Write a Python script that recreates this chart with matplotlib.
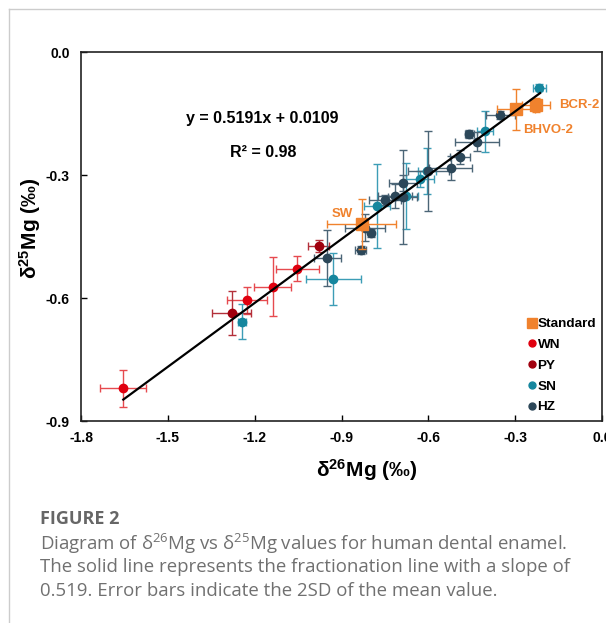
import numpy as np
import matplotlib
matplotlib.use("Agg")
import matplotlib.pyplot as plt
from matplotlib.lines import Line2D

plt.rcParams['mathtext.default'] = 'regular'

# values (delta26Mg, delta25Mg, 2SD)
wn_x = [-1.654, -1.227, -1.138, -1.053]
wn_y = [-0.820, -0.605, -0.572, -0.528]
wn_xerr = [0.079, 0.068, 0.063, 0.075]
wn_yerr = [0.045, 0.033, 0.071, 0.031]

py_x = [-1.279, -0.979]
py_y = [-0.636, -0.473]
py_xerr = [0.067, 0.036]
py_yerr = [0.053, 0.015]

sn_x = [-1.243, -0.928, -0.778, -0.677, -0.629, -0.605, -0.404, -0.216]
sn_y = [-0.658, -0.554, -0.376, -0.351, -0.310, -0.290, -0.193, -0.087]
sn_xerr = [0.014, 0.095, 0.045, 0.040, 0.048, 0.030, 0.029, 0.023]
sn_yerr = [0.043, 0.064, 0.103, 0.080, 0.020, 0.057, 0.050, 0.008]

hz_x = [-0.949, -0.834, -0.819, -0.799, -0.750, -0.715, -0.688, -0.688,
        -0.600, -0.523, -0.490, -0.458, -0.433, -0.352]
hz_y = [-0.503, -0.483, -0.428, -0.442, -0.361, -0.351, -0.320, -0.354,
        -0.290, -0.283, -0.255, -0.200, -0.219, -0.154]
hz_xerr = [0.046, 0.020, 0.069, 0.010, 0.054, 0.060, 0.048, 0.050,
           0.070, 0.075, 0.035, 0.016, 0.076, 0.050]
hz_yerr = [0.068, 0.010, 0.033, 0.010, 0.013, 0.030, 0.020, 0.114,
           0.098, 0.030, 0.017, 0.010, 0.023, 0.010]

std_names = ['SW', 'BHVO-2', 'BCR-2']
std_x = [-0.830, -0.297, -0.228]
std_y = [-0.420, -0.139, -0.129]
std_xerr = [0.119, 0.067, 0.050]
std_yerr = [0.061, 0.050, 0.018]

slope, intercept = 0.5191, 0.0109
fit_x = [-1.654, -0.214]

xticks = [-1.8, -1.5, -1.2, -0.9, -0.6, -0.3, 0.0]
yticks = [0.0, -0.3, -0.6, -0.9]

orange = '#F0822D'
c_wn, e_wn = '#E0000F', '#E64A4F'
c_py, e_py = '#A0000E', '#B3303A'
c_sn, e_sn = '#15869E', '#3C9DB6'
c_hz, e_hz = '#2C4759', '#4B6576'
font = 'Liberation Sans'

fig = plt.figure(figsize=(6.06, 6.23), dpi=100)
ax = fig.add_axes([0.1337, 0.3242, 0.8597, 0.5923])

eb = dict(fmt='o', ms=6, elinewidth=1, capsize=3, capthick=1, zorder=3)
ax.errorbar(wn_x, wn_y, xerr=wn_xerr, yerr=wn_yerr, color=c_wn, ecolor=e_wn, **eb)
ax.errorbar(py_x, py_y, xerr=py_xerr, yerr=py_yerr, color=c_py, ecolor=e_py, **eb)
ax.errorbar(sn_x, sn_y, xerr=sn_xerr, yerr=sn_yerr, color=c_sn, ecolor=e_sn, **eb)
ax.errorbar(hz_x, hz_y, xerr=hz_xerr, yerr=hz_yerr, color=c_hz, ecolor=e_hz, **eb)
ax.errorbar(std_x, std_y, xerr=std_xerr, yerr=std_yerr, fmt='s', ms=9,
            color=orange, ecolor=orange, elinewidth=1, capsize=3, capthick=1,
            zorder=4)

fx = np.array(fit_x)
ax.plot(fx, slope * fx + intercept, color='black', lw=1.6, zorder=5)

# standard labels
offs = {'SW': (-19, 10, 'center'), 'BHVO-2': (7, -21, 'left'), 'BCR-2': (23, 0, 'left')}
for name, x, y in zip(std_names, std_x, std_y):
    dx, dy, ha = offs[name]
    ax.annotate(name, (x, y), xytext=(dx, dy), textcoords='offset pixels',
                ha=ha, va='center', color=orange, fontsize=9.5,
                fontweight='bold', family=font)

ax.text(-1.175, -0.163, 'y = 0.5191x + 0.0109', ha='center', va='center',
        fontsize=11.5, fontweight='bold', family=font)
ax.text(-1.17, -0.245, 'R² = 0.98', ha='center', va='center',
        fontsize=11.5, fontweight='bold', family=font)

ax.set_xlim(-1.8, 0.0)
ax.set_ylim(-0.9, 0.0)
ax.set_xticks(xticks)
ax.set_yticks(yticks)
ax.set_xticklabels([f'{t:.1f}' for t in xticks])
ax.set_yticklabels([f'{t:.1f}' for t in yticks])
ax.tick_params(direction='in', length=4, width=1, labelsize=10)
ax.tick_params(axis='x', pad=7)
ax.tick_params(axis='y', pad=8)
for lab in ax.get_xticklabels() + ax.get_yticklabels():
    lab.set_fontweight('bold')
    lab.set_family(font)
for sp in ax.spines.values():
    sp.set_linewidth(1.2)
    sp.set_color('#222222')

ax.set_xlabel('δ$^{26}$Mg (‰)', fontsize=15, fontweight='bold', family=font)
ax.set_ylabel('δ$^{25}$Mg (‰)', fontsize=15, fontweight='bold', family=font)
ax.xaxis.set_label_coords(0.549, -0.098)
ax.yaxis.set_label_coords(-0.073, 0.523)

handles = [
    Line2D([], [], marker='s', ls='', color=orange, ms=7),
    Line2D([], [], marker='o', ls='', color=c_wn, ms=5),
    Line2D([], [], marker='o', ls='', color=c_py, ms=5),
    Line2D([], [], marker='o', ls='', color=c_sn, ms=5),
    Line2D([], [], marker='o', ls='', color=c_hz, ms=5),
]
leg = ax.legend(handles, ['Standard', 'WN', 'PY', 'SN', 'HZ'], loc='lower left',
                bbox_to_anchor=(0.84, -0.005), frameon=False, handlelength=0.6,
                handletextpad=0.1, labelspacing=0.62, borderaxespad=0.3,
                prop={'family': font, 'weight': 'bold', 'size': 9.7})

# card border and caption
fig.add_artist(Line2D([9 / 606, 9 / 606], [0, 1 - 9 / 623], color='#cccccc',
                      lw=1, transform=fig.transFigure))
fig.add_artist(Line2D([9 / 606, 1], [1 - 9 / 623, 1 - 9 / 623], color='#cccccc',
                      lw=1, transform=fig.transFigure))
fig.text(40 / 606, 1 - 519 / 623, 'FIGURE 2', fontsize=13, color='#666666',
         fontweight='bold', family='Open Sans', va='center')
caption = ['Diagram of δ$^{26}$Mg vs δ$^{25}$Mg values for human dental enamel.',
           'The solid line represents the fractionation line with a slope of',
           '0.519. Error bars indicate the 2SD of the mean value.']
for i, line in enumerate(caption):
    fig.text(40 / 606, 1 - (544 + 23.5 * i) / 623, line, fontsize=13.4,
             color='#707070', family='Open Sans', va='center')

fig.savefig('out.png', dpi=100)
